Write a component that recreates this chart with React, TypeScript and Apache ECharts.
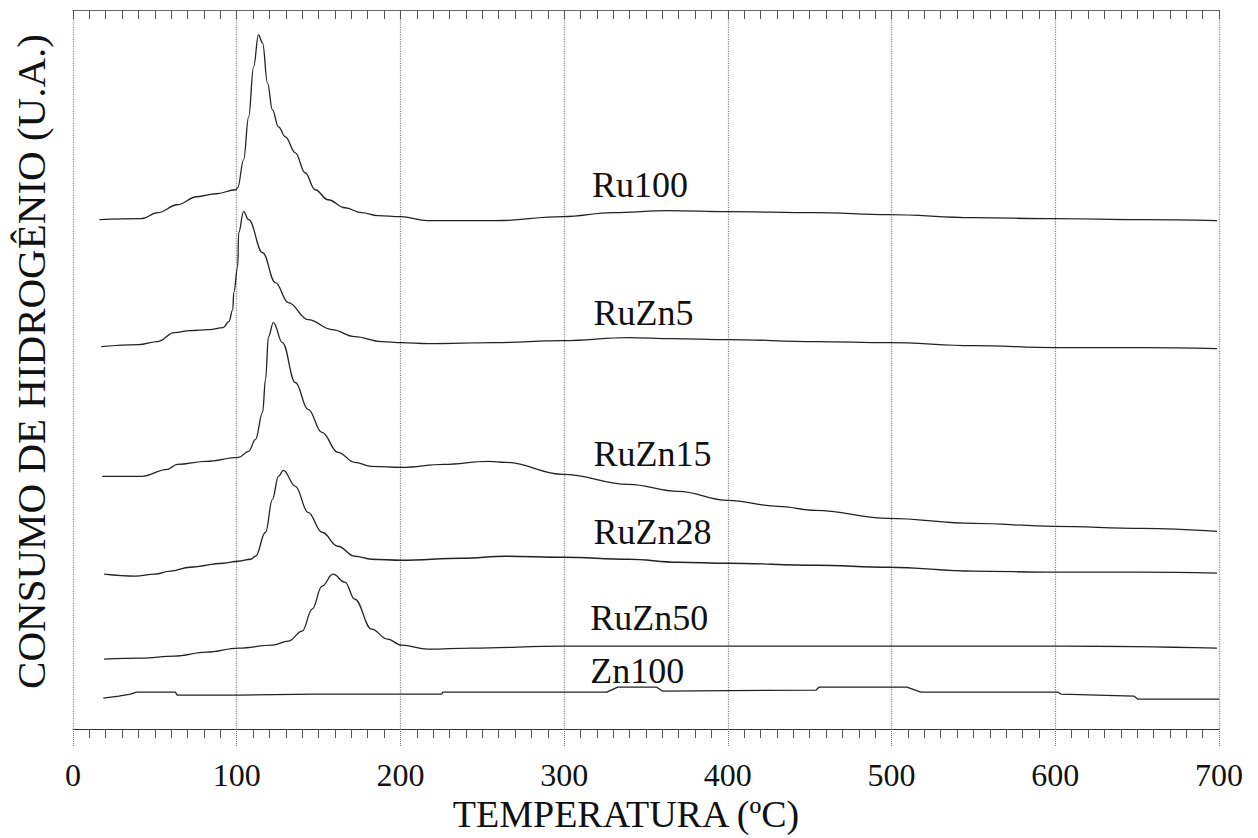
import React, { useEffect, useRef } from "react";
import * as echarts from "echarts";

// Temperature (°C) / hydrogen consumption (arbitrary units, stacked offsets)
const ru100: [number, number][] = [
  [16.1, 51.0], [41.7, 51.1], [51.8, 51.7], [63.7, 52.5], [75.6, 53.3], [87.5, 53.6],
  [99.4, 54.0], [100.6, 54.2], [104.2, 57.0], [107.3, 61.3], [110.3, 66.3], [113.3, 69.5],
  [115.8, 68.7], [118.8, 64.7], [121.8, 62.0], [125.5, 60.3], [129.7, 59.3], [135.8, 57.7],
  [141.8, 55.7], [147.9, 54.0], [155.8, 53.0], [166.1, 52.2], [176.4, 51.7], [186.1, 51.4],
  [200, 51.3], [216.7, 50.9], [258.0, 50.9], [299.4, 51.3], [329.7, 51.7], [363.6, 51.9],
  [400, 51.8], [453.4, 51.7], [498.2, 51.5], [550.0, 51.2], [599.4, 51.1], [652.8, 51.0],
  [698.8, 50.9],
];

const ruZn5: [number, number][] = [
  [17.3, 38.3], [39.9, 38.5], [51.8, 38.8], [61.9, 39.7], [71.4, 39.9], [83.3, 40.0],
  [91.7, 40.2], [95.2, 40.8], [97.6, 42.0], [98.2, 43.7], [100.6, 46.3], [101.2, 49.7],
  [104.2, 51.8], [107.3, 51.0], [115.8, 47.7], [123.6, 44.7], [131.5, 42.7], [143.6, 41.0],
  [158.2, 40.0], [172.1, 39.3], [188.5, 38.8], [200.6, 38.7], [216.7, 38.6], [258.0, 38.7],
  [299.4, 38.9], [339.4, 39.2], [366.1, 39.1], [400, 39.0], [453.4, 38.8], [498.2, 38.7],
  [550.0, 38.4], [599.4, 38.2], [652.8, 38.2], [698.8, 38.1],
];

const ruZn15: [number, number][] = [
  [17.9, 25.3], [41.7, 25.3], [57.7, 26.0], [63.7, 26.5], [81.5, 26.8], [101.2, 27.2],
  [107.3, 27.8], [111.5, 29.0], [115.8, 31.7], [117.6, 35.0], [119.4, 39.3], [122.4, 40.7],
  [127.9, 38.7], [135.8, 34.7], [143.6, 32.0], [152.1, 29.7], [161.8, 27.7], [172.1, 26.7],
  [182.4, 26.3], [200.6, 26.2], [226.5, 26.5], [253.7, 26.8], [264.2, 26.7], [299.4, 25.5],
  [339.4, 24.5], [369.7, 23.8], [400, 22.9], [430.7, 22.3], [453.4, 21.9], [498.2, 21.1],
  [550.0, 20.6], [599.4, 20.3], [652.8, 20.1], [698.8, 19.8],
];

const ruZn28: [number, number][] = [
  [19.0, 15.5], [38.1, 15.3], [50.0, 15.5], [59.5, 15.8], [71.4, 16.2], [91.7, 16.6],
  [101.2, 16.8], [108.5, 17.0], [111.5, 17.3], [117.6, 19.7], [121.8, 23.0], [125.5, 25.3],
  [128.5, 25.9], [135.8, 24.3], [143.6, 21.7], [152.1, 19.7], [161.8, 18.3], [172.1, 17.3],
  [182.4, 17.0], [200.6, 16.9], [237.7, 17.1], [264.2, 17.3], [299.4, 17.2], [339.4, 17.0],
  [369.7, 16.7], [400, 16.6], [453.4, 16.4], [498.2, 16.2], [550.0, 15.8], [599.4, 15.7],
  [652.8, 15.7], [698.8, 15.6],
];

const ruZn50: [number, number][] = [
  [19.0, 7.0], [41.7, 7.1], [61.9, 7.3], [81.5, 7.7], [101.2, 8.1], [121.8, 8.4],
  [131.5, 8.8], [140.0, 9.8], [146.1, 12.0], [152.1, 14.3], [158.8, 15.5], [166.1, 14.7],
  [172.1, 13.0], [182.4, 10.0], [192.1, 9.0], [200.6, 8.4], [216.7, 8.0], [243.8, 8.1],
  [299.4, 8.3], [400, 8.3], [502.5, 8.3], [605.6, 8.3], [698.8, 8.1],
];

const zn100: [number, number][] = [
  [18.5, 3.1], [28.0, 3.3], [35.1, 3.5], [38.7, 3.7], [62.5, 3.7], [63.7, 3.4],
  [101.2, 3.4], [147.9, 3.5], [225.3, 3.5], [225.9, 3.7], [326.1, 3.7], [332.7, 4.2],
  [356.4, 4.2], [360.0, 3.8], [453.9, 3.9], [455.8, 4.2], [509.3, 4.2], [517.9, 3.7],
  [601.5, 3.7], [603.5, 3.5], [648.0, 3.3], [650.3, 3.0], [700, 3.0],
];

const seriesNames = ["Ru100", "RuZn5", "RuZn15", "RuZn28", "RuZn50", "Zn100"];
const seriesData = [ru100, ruZn5, ruZn15, ruZn28, ruZn50, zn100];
// label anchor (temperature, value) for each curve name
const labelAnchors: [number, number][] = [
  [317, 54.5], [318, 41.7], [318, 27.5], [318, 19.7], [316, 11.1], [316, 5.8],
];

const xTicks = [0, 100, 200, 300, 400, 500, 600, 700];
const xTitle = "TEMPERATURA (ºC)";
const yTitle = "CONSUMO DE HIDROGÊNIO (U.A.)";

const serif = '"Liberation Serif", "Times New Roman", serif';

export default function App() {
  const ref = useRef<HTMLDivElement>(null);
  useEffect(() => {
    if (!ref.current) return;
    const chart = echarts.init(ref.current, null, { renderer: "svg" });
    const grid = { left: 73, right: 39, top: 10, bottom: 109, outerBoundsMode: "none", containLabel: false };
    chart.setOption({
      animation: false,
      backgroundColor: "#ffffff",
      grid,
      graphic: [
        {
          type: "text",
          x: 626,
          y: 814,
          style: {
            text: xTitle,
            align: "center",
            verticalAlign: "middle",
            fontFamily: serif,
            fontSize: 38,
            fill: "#111",
          },
        },
      ],
      xAxis: [
        {
          type: "value",
          min: xTicks[0],
          max: xTicks[xTicks.length - 1],
          interval: 100,
          position: "bottom",
          axisLine: { show: true, onZero: false, lineStyle: { color: "#333", width: 1.2 } },
          axisTick: { show: true, inside: false, length: 18, lineStyle: { color: "#777", type: "dotted" } },
          minorTick: { show: true, splitNumber: 10, length: 9, lineStyle: { color: "#555", width: 1 } },
          axisLabel: { fontFamily: serif, fontSize: 32, color: "#111", margin: 30 },
          splitLine: { show: true, lineStyle: { color: "#888", type: "dotted", width: 1.2 } },
        },
        {
          type: "value",
          min: xTicks[0],
          max: xTicks[xTicks.length - 1],
          interval: 100,
          position: "top",
          axisLine: { show: true, onZero: false, lineStyle: { color: "#666", width: 1.2 } },
          axisTick: { show: true, inside: true, length: 9, lineStyle: { color: "#555", width: 1 } },
          minorTick: { show: true, splitNumber: 10, length: 9, lineStyle: { color: "#555", width: 1 } },
          axisLabel: { show: false },
          splitLine: { show: false },
        },
      ],
      yAxis: {
        type: "value",
        min: 0,
        max: 72,
        name: yTitle,
        nameLocation: "middle",
        nameRotate: 90,
        nameGap: 22,
        nameTextStyle: { fontFamily: serif, fontSize: 41, color: "#111", padding: [0, 0, 0, 16] },
        axisLine: { show: false },
        axisTick: { show: false },
        axisLabel: { show: false },
        splitLine: { show: false },
      },
      series: seriesNames.map((name, i) => ({
        name,
        type: "line",
        data: seriesData[i],
        showSymbol: false,
        smooth: name === "Zn100" ? false : 0.4,
        smoothMonotone: "x",
        lineStyle: { color: "#222", width: 1.3 },
        xAxisIndex: 0,
        markPoint: {
          symbol: "circle",
          symbolSize: 0,
          data: [{ coord: labelAnchors[i], name }],
          label: {
            show: true,
            position: "right",
            distance: 0,
            formatter: name,
            fontFamily: serif,
            fontSize: 36,
            color: "#111",
          },
        },
      })),
    });
    return () => chart.dispose();
  }, []);
  return (
    <div
      ref={ref}
      style={{ position: "fixed", left: 0, top: 0, width: 1258, height: 838, background: "#fff" }}
    />
  );
}
